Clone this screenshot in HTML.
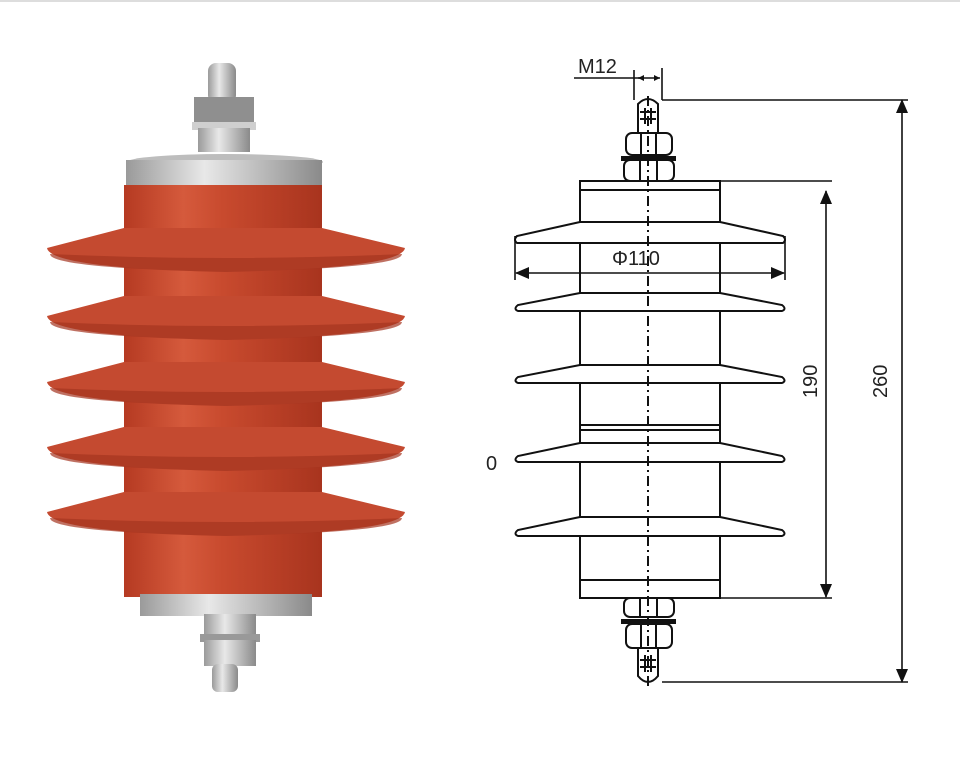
<!DOCTYPE html>
<html><head><meta charset="utf-8"><style>
html,body{margin:0;padding:0;background:#fff;}
svg{display:block;}
text{font-family:"Liberation Sans",sans-serif;fill:#222;}
</style></head><body>
<svg width="960" height="784" viewBox="0 0 960 784" xmlns="http://www.w3.org/2000/svg">
<defs>
<linearGradient id="red" x1="0" x2="1" y1="0" y2="0">
<stop offset="0" stop-color="#b53a22"/><stop offset="0.3" stop-color="#d55a3c"/><stop offset="0.5" stop-color="#c84a2e"/><stop offset="1" stop-color="#a8341e"/></linearGradient>
<linearGradient id="silver" x1="0" x2="1" y1="0" y2="0">
<stop offset="0" stop-color="#9a9a9a"/><stop offset="0.4" stop-color="#e8e8e8"/><stop offset="1" stop-color="#8a8a8a"/></linearGradient>
<marker id="ah" markerWidth="10" markerHeight="10" refX="9" refY="5" orient="auto" markerUnits="userSpaceOnUse"><path d="M0,0 L10,5 L0,10 Z" fill="#111"/></marker>
<marker id="ahs" markerWidth="14" markerHeight="14" refX="13" refY="7" orient="auto-start-reverse" markerUnits="userSpaceOnUse"><path d="M0,1 L14,7 L0,13 Z" fill="#111"/></marker>
</defs>
<rect x="0" y="0" width="960" height="2" fill="#ddd"/>
<!-- photo -->
<rect x="208" y="63" width="28" height="40" rx="8" fill="url(#silver)"/>
<rect x="194" y="97" width="60" height="28" fill="#8f8f8f"/>
<rect x="192" y="122" width="64" height="8" fill="#cfcfcf"/>
<rect x="198" y="128" width="52" height="24" fill="url(#silver)"/>
<ellipse cx="225" cy="162" rx="98" ry="8" fill="#bdbdbd"/>
<rect x="126" y="160" width="196" height="28" fill="url(#silver)"/>
<rect x="124" y="185" width="198" height="412" fill="url(#red)"/>
<g fill="#c44a30">
<path d="M124,228 L47,248 Q50,268 226,272 Q402,268 405,248 L322,228 Z"/>
<path d="M124,296 L47,316 Q50,336 226,340 Q402,336 405,316 L322,296 Z"/>
<path d="M124,362 L47,382 Q50,402 226,406 Q402,402 405,382 L322,362 Z"/>
<path d="M124,427 L47,447 Q50,467 226,471 Q402,467 405,447 L322,427 Z"/>
<path d="M124,492 L47,512 Q50,532 226,536 Q402,532 405,512 L322,492 Z"/>
</g>
<g fill="#a53520" opacity="0.7">
<path d="M50,254 Q226,262 402,254 Q402,268 226,272 Q50,268 50,254Z"/>
<path d="M50,322 Q226,330 402,322 Q402,336 226,340 Q50,336 50,322Z"/>
<path d="M50,388 Q226,396 402,388 Q402,402 226,406 Q50,402 50,388Z"/>
<path d="M50,453 Q226,461 402,453 Q402,467 226,471 Q50,467 50,453Z"/>
<path d="M50,518 Q226,526 402,518 Q402,532 226,536 Q50,532 50,518Z"/>
</g>
<rect x="140" y="594" width="172" height="22" fill="url(#silver)"/>
<rect x="204" y="614" width="52" height="22" fill="url(#silver)"/>
<rect x="200" y="634" width="60" height="8" fill="#999"/>
<rect x="204" y="640" width="52" height="26" fill="url(#silver)"/>
<rect x="212" y="664" width="26" height="28" rx="6" fill="url(#silver)"/>
<!-- drawing -->
<g stroke="#111" stroke-width="2" fill="none">
<rect x="580" y="181" width="140" height="417" fill="#fff"/>
<line x1="580" y1="190" x2="720" y2="190"/>
<line x1="580" y1="425" x2="720" y2="425"/>
<line x1="580" y1="430" x2="720" y2="430"/>
<line x1="580" y1="580" x2="720" y2="580"/>
<path d="M580,222 L517,236 Q513,240 517,243 L783,243 Q787,240 783,236 L720,222" fill="#fff"/>
<line x1="580" y1="222" x2="720" y2="222"/>
<path d="M580,293 L518,305 Q513,309 518,311 L782,311 Q787,309 782,305 L720,293" fill="#fff"/>
<line x1="580" y1="293" x2="720" y2="293"/>
<path d="M580,365 L518,377 Q513,381 518,383 L782,383 Q787,381 782,377 L720,365" fill="#fff"/>
<line x1="580" y1="365" x2="720" y2="365"/>
<path d="M580,443 L518,456 Q513,460 518,462 L782,462 Q787,460 782,456 L720,443" fill="#fff"/>
<line x1="580" y1="443" x2="720" y2="443"/>
<path d="M580,517 L518,530 Q513,534 518,536 L782,536 Q787,534 782,530 L720,517" fill="#fff"/>
<line x1="580" y1="517" x2="720" y2="517"/>
<!-- top bolt -->
<path d="M638,133 L638,104 Q648,94 658,104 L658,133"/>
<line x1="640" y1="112" x2="656" y2="112"/><line x1="640" y1="119" x2="656" y2="119"/>
<line x1="645" y1="108" x2="645" y2="124"/><line x1="651" y1="108" x2="651" y2="124"/>
<rect x="626" y="133" width="46" height="22" rx="6"/>
<line x1="641" y1="133" x2="641" y2="155"/><line x1="656" y1="133" x2="656" y2="155"/>
<rect x="624" y="160" width="50" height="21" rx="6"/>
<line x1="640" y1="160" x2="640" y2="181"/><line x1="657" y1="160" x2="657" y2="181"/>
<!-- bottom bolt -->
<rect x="624" y="598" width="50" height="19" rx="6"/>
<line x1="640" y1="598" x2="640" y2="617"/><line x1="657" y1="598" x2="657" y2="617"/>
<rect x="626" y="624" width="46" height="24" rx="6"/>
<line x1="641" y1="624" x2="641" y2="648"/><line x1="656" y1="624" x2="656" y2="648"/>
<path d="M638,648 L638,676 Q648,688 658,676 L658,648"/>
<line x1="640" y1="660" x2="656" y2="660"/><line x1="640" y1="667" x2="656" y2="667"/>
<line x1="645" y1="655" x2="645" y2="672"/><line x1="651" y1="655" x2="651" y2="672"/>
</g>
<rect x="621" y="156" width="55" height="5" fill="#111"/>
<rect x="621" y="619" width="55" height="5" fill="#111"/>
<line x1="648" y1="96" x2="648" y2="688" stroke="#111" stroke-width="2" stroke-dasharray="10,4,2,4"/>
<!-- dimensions -->
<g stroke="#111" stroke-width="1.6" fill="none">
<line x1="574" y1="78" x2="640" y2="78"/>
<line x1="634" y1="70" x2="634" y2="100"/><line x1="662" y1="68" x2="662" y2="100"/>
<line x1="638" y1="78" x2="660" y2="78"/>
<line x1="662" y1="100" x2="908" y2="100"/>
<line x1="662" y1="682" x2="908" y2="682"/>
<line x1="720" y1="181" x2="832" y2="181"/>
<line x1="720" y1="598" x2="832" y2="598"/>
<line x1="515" y1="236" x2="515" y2="280"/><line x1="785" y1="236" x2="785" y2="280"/>
<line x1="902" y1="100" x2="902" y2="682" marker-start="url(#ahs)" marker-end="url(#ahs)"/>
<line x1="826" y1="191" x2="826" y2="597" marker-start="url(#ahs)" marker-end="url(#ahs)"/>
<line x1="516" y1="273" x2="784" y2="273" marker-start="url(#ahs)" marker-end="url(#ahs)"/>
</g>
<path d="M638,78 l6,-3 v6z M660,78 l-6,-3 v6z" fill="#111"/>
<text x="578" y="73" font-size="20">M12</text>
<text x="612" y="265" font-size="20">Φ110</text>
<text x="486" y="470" font-size="20">0</text>
<text x="0" y="0" font-size="20" transform="translate(817,398) rotate(-90)">190</text>
<text x="0" y="0" font-size="20" transform="translate(887,398) rotate(-90)">260</text>
</svg>
</body></html>
